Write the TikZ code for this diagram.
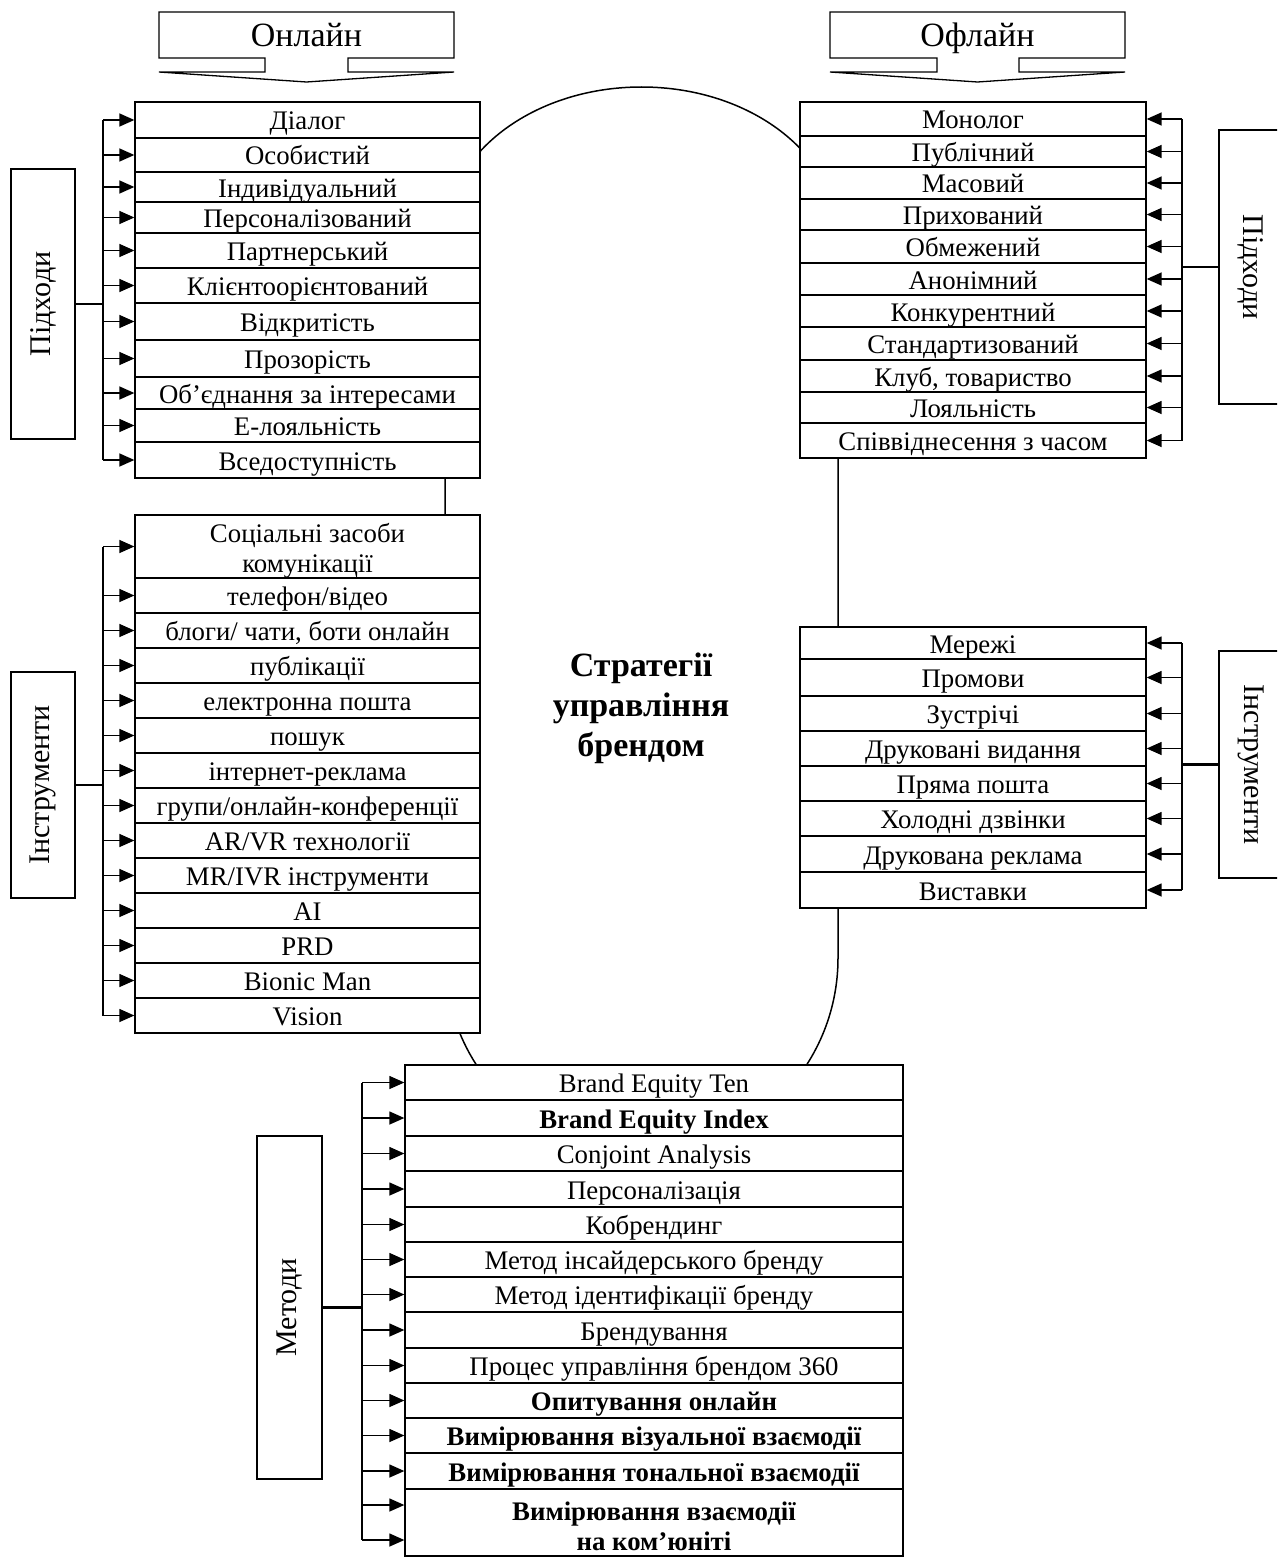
\documentclass[tikz,border=0pt]{standalone}
\usepackage{fontspec}
\setmainfont{Liberation Serif}
\usetikzlibrary{arrows.meta}
\begin{document}
\begin{tikzpicture}[x=1pt,y=-1pt,
  rowbox/.style={draw, line width=1.3pt, fill=white, inner sep=0pt, align=center,
    font=\fontsize{26.8}{30}\selectfont},
  one/.style={text height=21pt, text depth=1pt},
  twotext/.style={align=center, inner sep=0pt, font=\fontsize{26.8}{30}\selectfont, yshift=-4pt},
  sidebox/.style={draw, line width=1.3pt, fill=white, inner sep=0pt,
    font=\fontsize{30}{32}\selectfont},
  hdrtext/.style={inner sep=0pt, text height=24pt, text depth=5pt, font=\fontsize{34}{36}\selectfont},
  frame/.style={line width=1.3pt},
  bus/.style={line width=1.6pt},
  stem/.style={line width=2.4pt},
  arr/.style={line width=1.4pt, -{Triangle[length=15pt,width=13pt]}},
  ring/.style={line width=1.5pt}]
\useasboundingbox (0,0) rectangle (1277,1557);
\clip (0,0) rectangle (1277,1557);
\fill[white] (0,0) rectangle (1277,1557);

% large loop linking the four groups
\draw[ring] (838,237) arc[start angle=0, end angle=-180, x radius=196.5, y radius=150]
  -- (445,958) arc[start angle=180, end angle=0, x radius=196.5, y radius=197] -- cycle;

% header arrows
\draw[frame] (159,12) -- (454,12) -- (454,58) -- (348,58) -- (348,72) -- (454,72)
  -- (306.5,82) -- (159,72) -- (265,72) -- (265,58) -- (159,58) -- cycle;
\node[hdrtext] (online) at (306.5,37) {Онлайн};
\draw[frame] (830,12) -- (1125,12) -- (1125,58) -- (1019,58) -- (1019,72) -- (1125,72)
  -- (977.5,82) -- (830,72) -- (937,72) -- (937,58) -- (830,58) -- cycle;
\node[hdrtext] (offline) at (977.5,37) {Офлайн};

% online approaches
\foreach \t/\b/\txt [count=\i] in {
  102/138/{Діалог}, 138/172/{Особистий}, 172/202/{Індивідуальний},
  202/233/{Персоналізований}, 233/268/{Партнерський}, 268/303/{Клієнтоорієнтований},
  303/340/{Відкритість}, 340/377/{Прозорість}, 377/409/{Об’єднання за інтересами},
  409/442/{Е-лояльність}, 442/478/{Вседоступність}}
  \node[rowbox, one, minimum width=345, minimum height={\b-\t}] (on\i) at (307.5,{(\t+\b)/2}) {\txt};

% online tools
\node[rowbox, minimum width=345, minimum height=63] (it1) at (307.5,546.5) {};
\node[twotext] (it1text) at (it1.center) {Соціальні засоби\\комунікації};
\foreach \t/\b/\txt [count=\j from 2] in {
  578/613/{телефон/відео},
  613/648/{блоги/ чати, боти онлайн}, 648/683/{публікації}, 683/718/{електронна пошта},
  718/753/{пошук}, 753/788/{інтернет-реклама}, 788/823/{групи/онлайн-конференції},
  823/858/{AR/VR технології}, 858/893/{MR/IVR інструменти}, 893/928/{AI},
  928/963/{PRD}, 963/998/{Bionic Man}, 998/1033/{Vision}}
  \node[rowbox, one, minimum width=345, minimum height={\b-\t}] (it\j) at (307.5,{(\t+\b)/2}) {\txt};

% offline approaches
\foreach \t/\b/\txt [count=\i] in {
  102/136/{Монолог}, 136/167/{Публічний}, 167/199/{Масовий}, 199/230/{Прихований},
  230/263/{Обмежений}, 263/295/{Анонімний}, 295/327/{Конкурентний},
  327/360/{Стандартизований}, 360/392/{Клуб, товариство}, 392/423/{Лояльність},
  423/458/{Співвіднесення з часом}}
  \node[rowbox, one, minimum width=346, minimum height={\b-\t}] (of\i) at (973,{(\t+\b)/2}) {\txt};

% offline tools
\foreach \t/\b/\txt [count=\i] in {
  627/659/{Мережі}, 659/696/{Промови}, 696/731/{Зустрічі}, 731/766/{Друковані видання},
  766/801/{Пряма пошта}, 801/836/{Холодні дзвінки}, 836/872/{Друкована реклама},
  872/908/{Виставки}}
  \node[rowbox, one, minimum width=346, minimum height={\b-\t}] (oi\i) at (973,{(\t+\b)/2}) {\txt};

% methods
\foreach \t/\b/\txt [count=\i] in {
  1065/1100/{Brand Equity Ten}, 1100/1136/{\bfseries Brand Equity Index},
  1136/1171/{Conjoint Analysis}, 1171/1207/{Персоналізація}, 1207/1242/{Кобрендинг},
  1242/1277/{Метод інсайдерського бренду}, 1277/1312/{Метод ідентифікації бренду},
  1312/1348/{Брендування}, 1348/1383/{Процес управління брендом 360},
  1383/1418/{\bfseries Опитування онлайн},
  1418/1453/{\bfseries Вимірювання візуальної взаємодії},
  1453/1489/{\bfseries Вимірювання тональної взаємодії}}
  \node[rowbox, one, minimum width=498, minimum height={\b-\t}] (me\i) at (654,{(\t+\b)/2}) {\txt};
\node[rowbox, minimum width=498, minimum height=67] (me13) at (654,1522.5) {};
\node[twotext] (me13text) at (me13.center)
  {\bfseries Вимірювання взаємодії\\\bfseries на ком’юніті};

% group labels
\node[sidebox, rotate=90, minimum width=270, minimum height=64] (lblA) at (43,304) {Підходи};
\node[sidebox, rotate=90, minimum width=226, minimum height=64] (lblB) at (43,785) {Інструменти};
\node[sidebox, rotate=90, minimum width=343, minimum height=65] (lblC) at (289.5,1307.5) {Методи};
\node[sidebox, rotate=-90, minimum width=274, minimum height=64] (lblD) at (1251,267) {Підходи};
\node[sidebox, rotate=-90, minimum width=227, minimum height=64] (lblE) at (1251,764.5) {Інструменти};

% distribution buses
\coordinate (busA) at (103,0);
\coordinate (busB) at (103,0);
\coordinate (busC) at (362,0);
\coordinate (busD) at (1182,0);
\coordinate (busE) at (1182,0);

\draw[bus] (busA |- on1.west) -- (busA |- on11.west);
\draw[stem] (lblA.south) -- (busA |- lblA.south);
\foreach \i in {1,...,11} \draw[arr] (busA |- on\i.west) -- (on\i.west);

\draw[bus] (busB |- it1.west) -- (busB |- it14.west);
\draw[stem] (lblB.south) -- (busB |- lblB.south);
\foreach \i in {1,...,14} \draw[arr] (busB |- it\i.west) -- (it\i.west);

\draw[bus] (busC |- me1.west) -- (busC |- 0,1540);
\draw[stem] (lblC.south) -- (busC |- lblC.south);
\foreach \i in {1,...,12} \draw[arr] (busC |- me\i.west) -- (me\i.west);
\draw[arr] (busC |- 0,1505) -- (me13.west |- 0,1505);
\draw[arr] (busC |- 0,1540) -- (me13.west |- 0,1540);

\draw[bus] (busD |- of1.east) -- (busD |- of11.east);
\draw[stem] (lblD.south) -- (busD |- lblD.south);
\foreach \i in {1,...,11} \draw[arr] (busD |- of\i.east) -- (of\i.east);

\draw[bus] (busE |- oi1.east) -- (busE |- oi8.east);
\draw[stem] (lblE.south) -- (busE |- lblE.south);
\foreach \i in {1,...,8} \draw[arr] (busE |- oi\i.east) -- (oi\i.east);

% central title
\node[align=center, font=\bfseries\fontsize{34}{40}\selectfont] (title) at (641,708)
  {Стратегії\\управління\\брендом};
\end{tikzpicture}
\end{document}
